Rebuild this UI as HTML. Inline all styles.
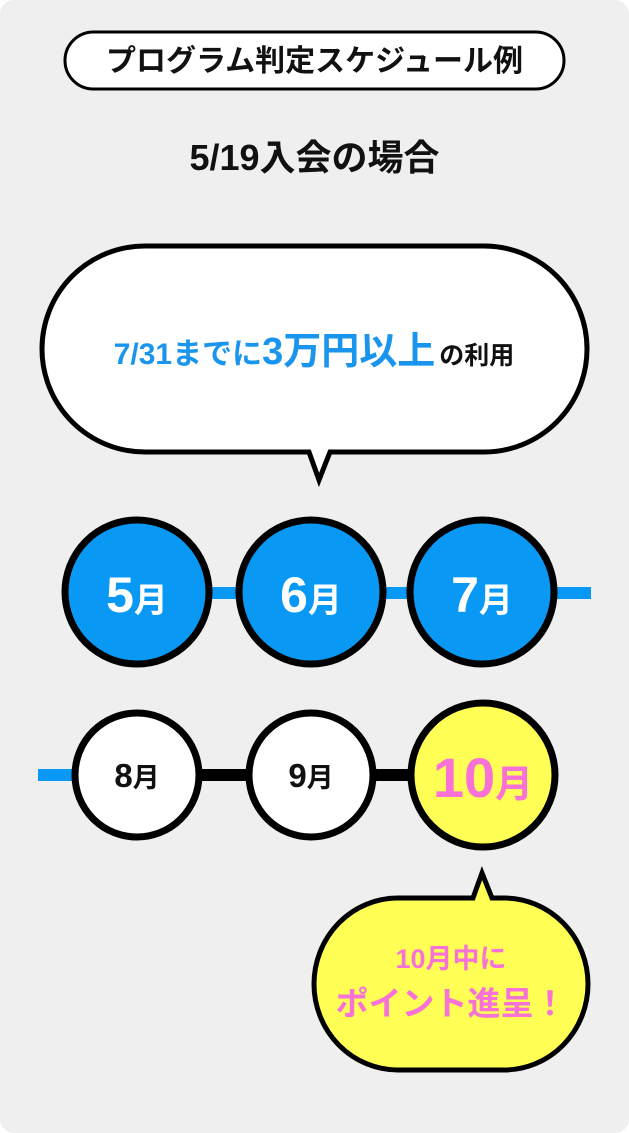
<!DOCTYPE html>
<html><head><meta charset="utf-8"><style>
html,body{margin:0;padding:0;background:#fff;}
svg{display:block;}
text{font-family:"Liberation Sans","Noto Sans CJK JP",sans-serif;font-weight:bold;}
</style></head><body>
<svg width="629" height="1133" viewBox="0 0 629 1133" xmlns="http://www.w3.org/2000/svg">
<rect x="0" y="0" width="629" height="1133" rx="14" fill="#efefef"/>
<rect x="65" y="32" width="499" height="57" rx="28.5" fill="#fff" stroke="#000" stroke-width="3"/>
<text x="314.5" y="71" font-size="30" text-anchor="middle" fill="#111">プログラム判定スケジュール例</text>
<text x="314.5" y="170" font-size="36" text-anchor="middle" fill="#111">5/19入会の場合</text>
<path d="M145,246 H484 A103,103 0 0 1 484,452 H330 L319,480 L309,452 H145 A103,103 0 0 1 145,246 Z" fill="#fff" stroke="#000" stroke-width="5"/>
<text x="314" y="364" text-anchor="middle"><tspan font-size="30" fill="#1a95ee">7/31までに</tspan><tspan font-size="38" fill="#1a95ee">3万円以上</tspan><tspan font-size="25" fill="#111" dx="4">の利用</tspan></text>
<rect x="137" y="587" width="454" height="12" fill="#0a98f5"/>
<circle cx="137" cy="592" r="72" fill="#0a98f5" stroke="#000" stroke-width="7"/>
<circle cx="311" cy="592" r="72" fill="#0a98f5" stroke="#000" stroke-width="7"/>
<circle cx="482" cy="592" r="72" fill="#0a98f5" stroke="#000" stroke-width="7"/>
<text x="137" y="612" text-anchor="middle" fill="#fff"><tspan font-size="50">5</tspan><tspan font-size="34">月</tspan></text>
<text x="311" y="612" text-anchor="middle" fill="#fff"><tspan font-size="50">6</tspan><tspan font-size="34">月</tspan></text>
<text x="482" y="612" text-anchor="middle" fill="#fff"><tspan font-size="50">7</tspan><tspan font-size="34">月</tspan></text>
<rect x="38" y="769" width="100" height="12" fill="#0a98f5"/>
<rect x="137" y="769" width="346" height="12" fill="#000"/>
<circle cx="137" cy="775" r="62" fill="#fff" stroke="#000" stroke-width="7"/>
<circle cx="311" cy="775" r="62" fill="#fff" stroke="#000" stroke-width="7"/>
<circle cx="483" cy="775" r="72" fill="#ffff55" stroke="#000" stroke-width="7"/>
<text x="137" y="787" text-anchor="middle" fill="#111"><tspan font-size="33">8</tspan><tspan font-size="27">月</tspan></text>
<text x="311" y="787" text-anchor="middle" fill="#111"><tspan font-size="33">9</tspan><tspan font-size="27">月</tspan></text>
<text x="483" y="797" text-anchor="middle" fill="#f771d6"><tspan font-size="56">10</tspan><tspan font-size="38">月</tspan></text>
<path d="M398,898 H473 L482,873 L492,898 H504 A84,86 0 0 1 504,1070 H398 A84,86 0 0 1 398,898 Z" fill="#ffff55" stroke="#000" stroke-width="5"/>
<text x="451" y="968" font-size="27" text-anchor="middle" fill="#f771d6">10月中に</text>
<text x="451" y="1015" font-size="33" text-anchor="middle" fill="#f771d6">ポイント進呈！</text>
</svg>
</body></html>
